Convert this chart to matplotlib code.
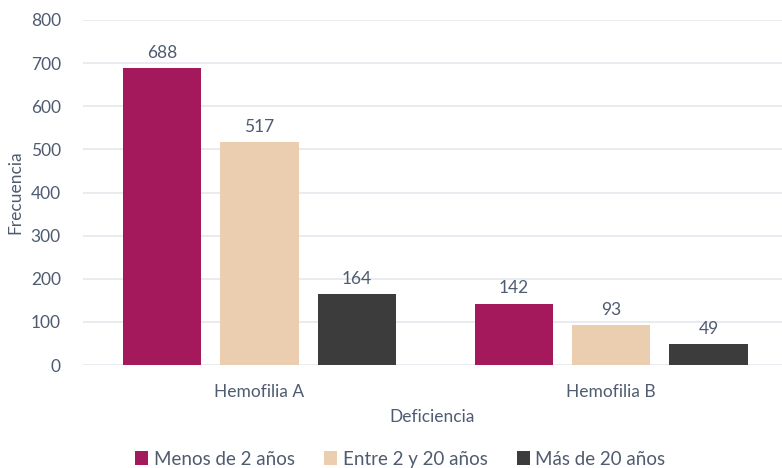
import matplotlib.pyplot as plt
import numpy as np

# data
categories = ["Hemofilia A", "Hemofilia B"]
series_names = ["Menos de 2 años", "Entre 2 y 20 años", "Más de 20 años"]
menos_2 = [688, 142]
entre_2_20 = [517, 93]
mas_20 = [164, 49]

colors = ["#A3195B", "#EBCDAF", "#3C3C3C"]
text_color = "#4F5B70"
grid_color = "#E4E7EE"

plt.rcParams["font.family"] = ["Lato", "DejaVu Sans"]

fig = plt.figure(figsize=(7.82, 4.68), dpi=100)
ax = fig.add_axes([83 / 782, 1 - 365 / 468, (782 - 83) / 782, (365 - 20) / 468])

x = np.arange(len(categories))
width = 0.222
step = 0.277
for i, (vals, name) in enumerate(zip([menos_2, entre_2_20, mas_20], series_names)):
    pos = x + (i - 1) * step
    bars = ax.bar(pos, vals, width, color=colors[i], label=name, zorder=3)
    for b, v in zip(bars, vals):
        ax.text(b.get_x() + b.get_width() / 2, v + 17, str(v), ha="center", va="bottom",
                fontsize=12.5, color=text_color)

ax.set_ylim(0, 800)
ax.set_xlim(-0.502, 1.486)
ax.set_yticks(range(0, 801, 100))
ax.set_xticks(x)
ax.set_xticklabels(categories)
ax.yaxis.grid(True, color=grid_color, linewidth=1.2, zorder=0)
ax.tick_params(axis="both", length=0, labelsize=12.5, labelcolor=text_color)
ax.tick_params(axis="x", pad=14)
ax.tick_params(axis="y", pad=16)
for s in ax.spines.values():
    s.set_visible(False)

ax.set_xlabel("Deficiencia", fontsize=12.5, color=text_color, labelpad=6)
ax.set_ylabel("Frecuencia", fontsize=12.5, color=text_color, labelpad=5)

fig.legend(loc="lower center", bbox_to_anchor=(0.512, -0.035), ncol=3, frameon=False,
           fontsize=13.5, labelcolor=text_color, handlelength=0.7, handleheight=0.7,
           handletextpad=0.3, columnspacing=1.55)

fig.savefig("out.png", dpi=100)
